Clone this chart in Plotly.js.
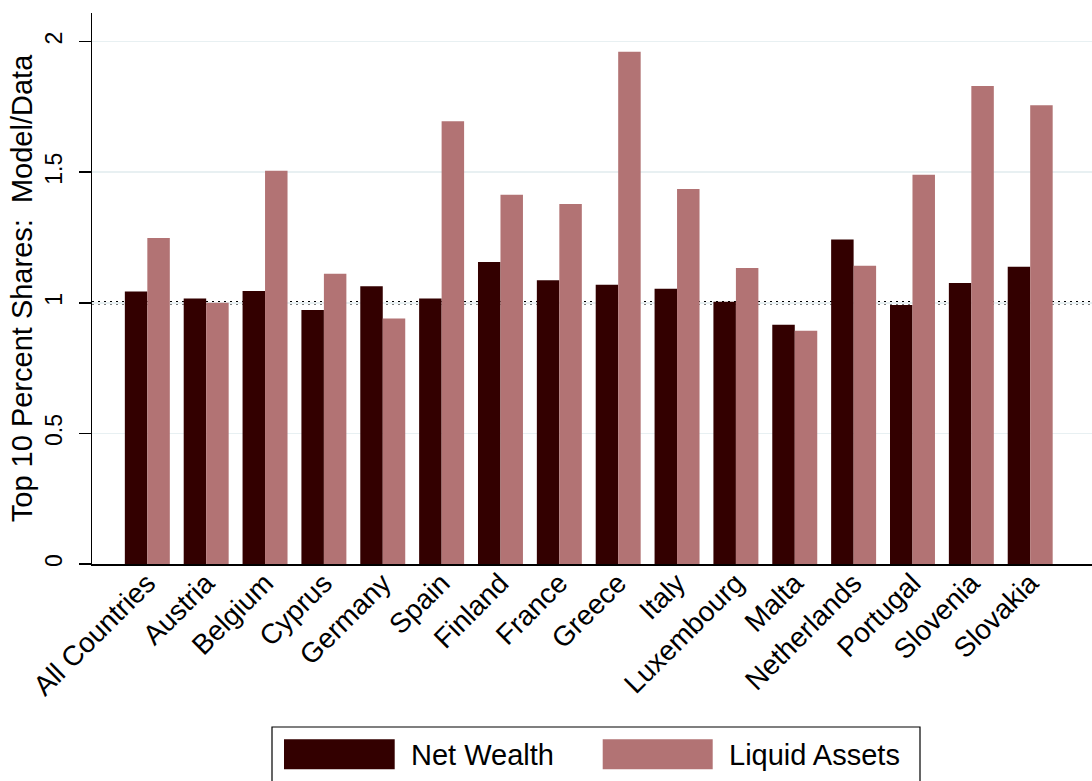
<!DOCTYPE html>
<html>
<head>
<meta charset="utf-8">
<script src="https://cdn.plot.ly/plotly-3.0.1.min.js"></script>
<style>html,body{margin:0;padding:0;background:#fff;}#chart{width:1092px;height:781px;}</style>
</head>
<body>
<div id="chart"></div>
<script>
var categories = ['All Countries','Austria','Belgium','Cyprus','Germany','Spain','Finland','France','Greece','Italy','Luxembourg','Malta','Netherlands','Portugal','Slovenia','Slovakia'];
var netWealth = [1.043,1.016,1.045,0.972,1.063,1.016,1.156,1.086,1.069,1.054,1.004,0.916,1.242,0.992,1.076,1.138];
var liquidAssets = [1.248,1.000,1.506,1.111,0.940,1.695,1.414,1.378,1.961,1.436,1.133,0.893,1.142,1.490,1.830,1.756];
var seriesNames = ['Net Wealth','Liquid Assets'];
var yTickVals = [0,0.5,1,1.5,2];
var yTickText = ['0','0.5','1','1.5','2'];

var FONT = 'Liberation Sans, Arial, Helvetica, sans-serif';
var C_NW = '#330000', C_LA = '#b27374';

var traces = [
  {type:'bar', name:seriesNames[0], x:categories, y:netWealth, marker:{color:C_NW, line:{width:0}}, showlegend:false},
  {type:'bar', name:seriesNames[1], x:categories, y:liquidAssets, marker:{color:C_LA, line:{width:0}}, showlegend:false}
];

// paper-coord helpers for the hand-drawn legend (plot area: x 92..1092, y 13..564)
function px(x){return (x-92)/1000;}
function py(y){return (564-y)/551;}

var layout = {
  width:1092, height:781,
  margin:{l:92, r:0, t:13, b:217, pad:0},
  paper_bgcolor:'#ffffff', plot_bgcolor:'#ffffff',
  font:{family:FONT, color:'#000'},
  barmode:'group', bargap:0.236, bargroupgap:0,
  xaxis:{
    type:'category', range:[-0.94,16.05],
    showline:true, linecolor:'#000', linewidth:1.5,
    ticks:'', tickangle:-45, tickfont:{size:28, family:FONT, color:'#000'},
    ticklabelstandoff:-10,
    showgrid:false, zeroline:false, automargin:false
  },
  yaxis:{
    range:[0,2.1095],
    tickvals:yTickVals, ticktext:yTickText,
    showline:true, linecolor:'#000', linewidth:1.5,
    ticks:'outside', ticklen:12, tickwidth:1.5, tickcolor:'#000',
    tickangle:-90, tickfont:{size:23, family:FONT, color:'#000'},
    ticklabelstandoff:7,
    showgrid:true, gridcolor:'#e8f0f2', gridwidth:1.5,
    zeroline:false, automargin:false,
    title:{text:'Top 10 Percent Shares:  Model/Data', font:{size:29, family:FONT, color:'#000'}, standoff:0}
  },
  shapes:[
    {type:'line', xref:'paper', yref:'y', x0:0, x1:1, y0:1, y1:1, layer:'between',
     line:{color:'#000', width:3.5, dash:'2px,4px'}},
    {type:'rect', xref:'paper', yref:'paper', x0:px(272), x1:px(920), y0:py(727), y1:py(800),
     line:{color:'#000', width:1.2}, fillcolor:'rgba(0,0,0,0)'},
    {type:'rect', xref:'paper', yref:'paper', x0:px(284), x1:px(394.7), y0:py(739.3), y1:py(769.3),
     line:{width:0}, fillcolor:C_NW},
    {type:'rect', xref:'paper', yref:'paper', x0:px(602.7), x1:px(712.7), y0:py(739.3), y1:py(769.3),
     line:{width:0}, fillcolor:C_LA}
  ],
  annotations:[
    {xref:'paper', yref:'paper', x:px(409), y:py(755), xanchor:'left', yanchor:'middle', showarrow:false,
     text:seriesNames[0], font:{size:29, family:FONT, color:'#000'}},
    {xref:'paper', yref:'paper', x:px(727), y:py(755), xanchor:'left', yanchor:'middle', showarrow:false,
     text:seriesNames[1], font:{size:29, family:FONT, color:'#000'}}
  ]
};

Plotly.newPlot('chart', traces, layout, {staticPlot:true, displayModeBar:false});
</script>
</body>
</html>
